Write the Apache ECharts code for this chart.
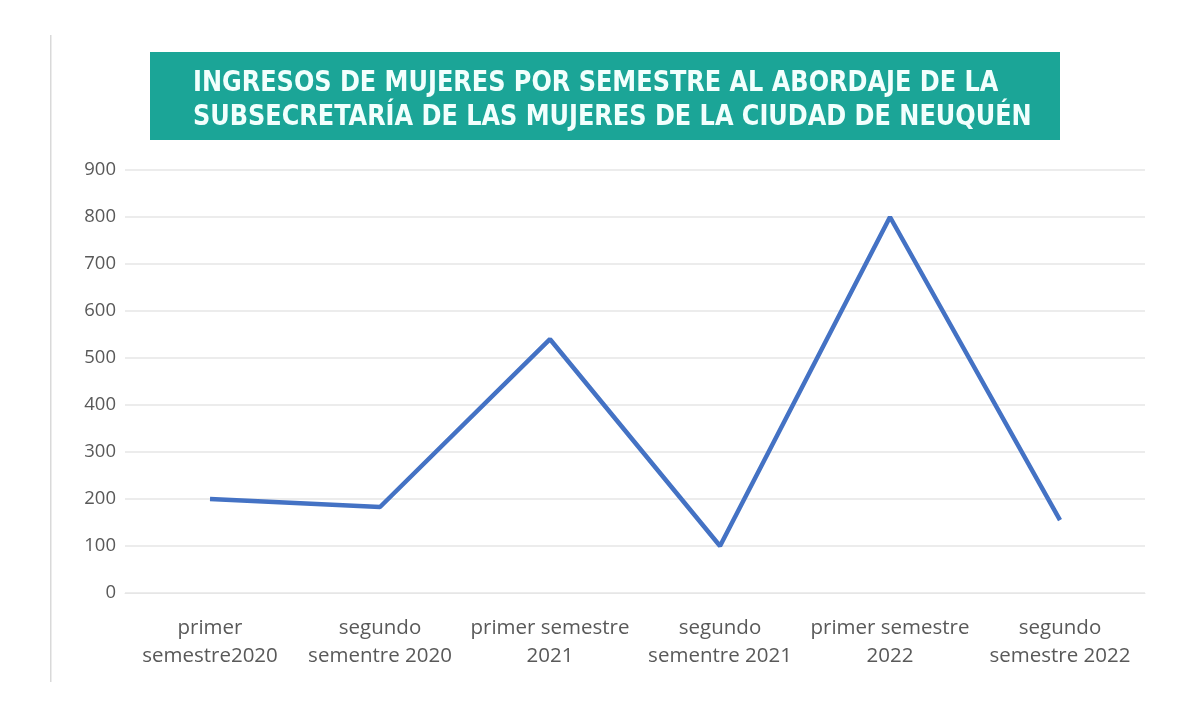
<!DOCTYPE html>
<html>
<head>
<meta charset="utf-8">
<script src="https://cdn.jsdelivr.net/npm/echarts@6/dist/echarts.min.js"></script>
<style>
  html,body{margin:0;padding:0;background:#fff}
  #main{width:1201px;height:716px}
</style>
</head>
<body>
<div id="main"></div>
<script>
let categories = [
  'primer\nsemestre2020',
  'segundo\nsementre 2020',
  'primer semestre\n2021',
  'segundo\nsementre 2021',
  'primer semestre\n2022',
  'segundo\nsemestre 2022'
]
let ingresos = [200, 183, 540, 100, 800, 155]
let titleLines = [
  'INGRESOS DE MUJERES POR SEMESTRE AL ABORDAJE DE LA',
  'SUBSECRETARÍA DE LAS MUJERES DE LA CIUDAD DE NEUQUÉN'
]

let labelFont = '"Open Sans", Lato, sans-serif'

let myChart = echarts.init(document.getElementById('main'))
let option = {
  backgroundColor:'#fff',
  animation:false,
  graphic:[
    {
      type:'rect',
      z:-1,
      shape:{x:150, y:52, width:910, height:88},
      style:{fill:'#1ba597'}
    },
    {
      type:'rect',
      shape:{x:50, y:35, width:1.5, height:647},
      style:{fill:'#d9d9d9'}
    },
    {
      type:'group',
      x:193,
      y:66,
      scaleX:0.92,
      children:[{
        type:'text',
        style:{
          text:titleLines.join('\n'),
          fill:'#f2fffd',
          font:'bold 29px "DejaVu Sans Condensed", "DejaVu Sans", sans-serif',
          lineHeight:34
        }
      }]
    }
  ],
  grid:{
    left:125,
    right:56,
    top:170,
    bottom:123
  },
  xAxis:{
    type:'category',
    data:categories,
    axisLine:{lineStyle:{color:'#e6e6e6'}},
    axisTick:{show:false},
    axisLabel:{
      interval:0,
      color:'#595959',
      fontFamily:labelFont,
      fontSize:20.5,
      lineHeight:28,
      margin:21
    }
  },
  yAxis:{
    type:'value',
    min:0,
    max:900,
    interval:100,
    axisLine:{show:false},
    axisTick:{show:false},
    splitLine:{lineStyle:{color:'#e6e6e6', width:1.5}},
    axisLabel:{
      color:'#595959',
      fontFamily:labelFont,
      fontSize:18.5,
      margin:9
    }
  },
  series:[{
    type:'line',
    data:ingresos,
    symbol:'none',
    lineStyle:{color:'#4472c4', width:4.5}
  }]
}
myChart.setOption(option)
</script>
</body>
</html>
